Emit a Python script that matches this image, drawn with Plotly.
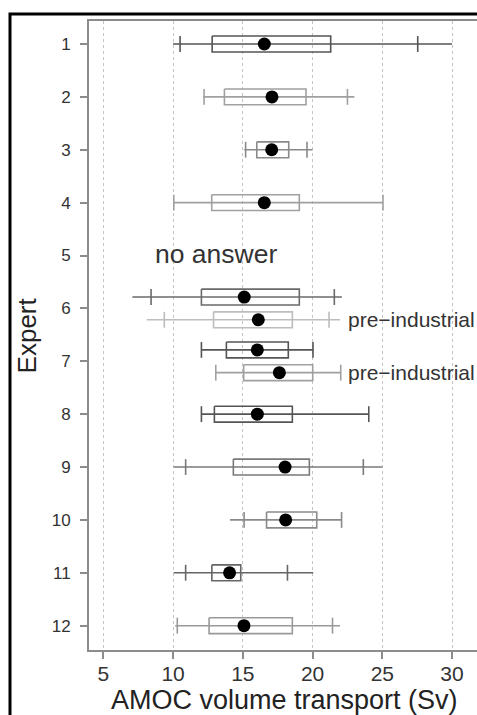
import plotly.graph_objects as go

# ---- data ----
expert_ticks = [1, 2, 3, 4, 5, 6, 7, 8, 9, 10, 11, 12]
expert_labels = ["1", "2", "3", "4", "5", "6", "7", "8", "9", "10", "11", "12"]

row_expert = [1, 2, 3, 4, 6, 6, 7, 7, 8, 9, 10, 11, 12]
row_preindustrial = [False, False, False, False, False, True, False, True, False, False, False, False, False]

whisker_lo = [10.0, 12.17, 15.1, 10.0, 7.08, 8.11, 12.0, 13.05, 12.0, 10.05, 14.08, 10.05, 10.15]
whisker_hi = [30.0, 23.0, 20.0, 25.0, 22.1, 21.97, 20.05, 22.0, 24.05, 25.0, 22.08, 20.05, 21.97]
tick_lo = [10.5, 12.22, 15.2, 10.05, 8.42, 9.37, 12.03, 13.06, 12.03, 10.9, 15.09, 10.9, 10.3]
tick_hi = [27.54, 22.5, 19.6, 25.05, 21.56, 21.18, 20.03, 22.02, 24.03, 23.64, 22.08, 18.2, 21.43]
q25 = [12.8, 13.68, 16.0, 12.77, 12.03, 12.9, 13.82, 15.06, 12.96, 14.32, 16.7, 12.78, 12.58]
q75 = [21.3, 19.53, 18.29, 19.05, 19.05, 18.55, 18.26, 20.01, 18.55, 19.77, 20.3, 14.85, 18.55]
best = [16.54, 17.09, 17.07, 16.54, 15.1, 16.11, 16.04, 17.62, 16.04, 18.03, 18.07, 14.05, 15.08]

row_color = ["#555555", "#a0a0a0", "#8a8a8a", "#a0a0a0", "#6a6a6a", "#bdbdbd", "#555555",
             "#a0a0a0", "#555555", "#7a7a7a", "#8a8a8a", "#666666", "#999999"]

no_answer_expert = 5
no_answer_text = "no answer"
pre_label = "pre\u2212industrial"
pre_label_x = 22.4

x_tickvals = [5, 10, 15, 20, 25, 30]
x_title = "AMOC volume transport (Sv)"
y_title = "Expert"

# ---- figure ----
H = 0.15        # half height of boxes / tick marks (in expert units)
SHIFT = 0.215   # vertical separation of paired rows

fig = go.Figure()

paired = {e for e, p in zip(row_expert, row_preindustrial) if p}
for i, e in enumerate(row_expert):
    if row_preindustrial[i]:
        y = e + SHIFT
    elif e in paired:
        y = e - SHIFT
    else:
        y = e
    c = row_color[i]
    # whisker line
    fig.add_trace(go.Scatter(x=[whisker_lo[i], whisker_hi[i]], y=[y, y], mode="lines",
                             line=dict(color=c, width=1.6), hoverinfo="skip", showlegend=False))
    # tick marks
    fig.add_trace(go.Scatter(x=[tick_lo[i], tick_lo[i], None, tick_hi[i], tick_hi[i]],
                             y=[y - H, y + H, None, y - H, y + H], mode="lines",
                             line=dict(color=c, width=1.6), hoverinfo="skip", showlegend=False))
    # box
    fig.add_trace(go.Scatter(x=[q25[i], q75[i], q75[i], q25[i], q25[i]],
                             y=[y - H, y - H, y + H, y + H, y - H], mode="lines",
                             line=dict(color=c, width=1.6), hoverinfo="skip", showlegend=False))
    # best estimate
    fig.add_trace(go.Scatter(x=[best[i]], y=[y], mode="markers",
                             marker=dict(color="black", size=13), hoverinfo="skip", showlegend=False))
    if row_preindustrial[i]:
        fig.add_annotation(x=pre_label_x, y=y, text=pre_label, showarrow=False,
                           xanchor="left", yanchor="middle",
                           font=dict(size=21, color="#333333", family="Liberation Sans"))

fig.add_annotation(x=13.08, y=no_answer_expert - 0.03, text=no_answer_text, showarrow=False,
                   xanchor="center", yanchor="middle",
                   font=dict(size=26.5, color="#333333", family="Liberation Sans"))

# axis titles
fig.add_annotation(xref="paper", yref="paper", x=0.505, y=-0.079, text=x_title, showarrow=False,
                   xanchor="center", yanchor="middle",
                   font=dict(size=27, color="#222222", family="Liberation Sans"))
fig.add_annotation(xref="paper", yref="paper", x=-0.16, y=0.5, text=y_title, showarrow=False,
                   textangle=-90, xanchor="center", yanchor="middle",
                   font=dict(size=26, color="#222222", family="Liberation Sans"))

# outer black frame (cropped at right/bottom)
fig.add_shape(type="rect", xref="paper", yref="paper", x0=-0.2036, x1=1.3, y0=-0.3, y1=1.0112,
              line=dict(color="black", width=3), fillcolor="rgba(0,0,0,0)", layer="above")

fig.update_xaxes(range=[3.97, 31.79], tickvals=x_tickvals, showgrid=True, gridcolor="#c4c4c4",
                 griddash="dot", gridwidth=1, zeroline=False, showline=True, linecolor="#8c8c8c",
                 linewidth=2, mirror=True, ticks="outside", ticklen=7, tickcolor="#8c8c8c",
                 tickwidth=1.5, ticklabelstandoff=-3,
                 tickfont=dict(size=21, color="#333333", family="Liberation Sans"))
fig.update_yaxes(range=[12.46, 0.565], tickvals=expert_ticks, ticktext=expert_labels,
                 showgrid=False, zeroline=False, showline=True, linecolor="#8c8c8c", linewidth=2,
                 ticks="outside", ticklen=7, tickcolor="#8c8c8c", tickwidth=1.5,
                 ticklabelstandoff=6,
                 tickfont=dict(size=17, color="#333333", family="Liberation Sans"))

fig.update_layout(width=477, height=715, margin=dict(l=89, r=0, t=21, b=65),
                  paper_bgcolor="white", plot_bgcolor="white")

fig.write_html("out.html", config={"displayModeBar": False},
               post_script="document.body.style.margin='0px';document.body.style.overflow='hidden';")
